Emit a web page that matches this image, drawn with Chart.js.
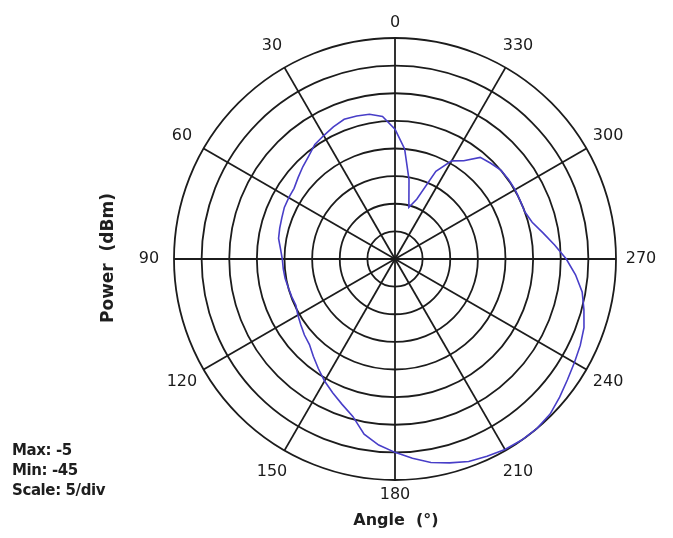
<!DOCTYPE html>
<html>
<head>
<meta charset="utf-8">
<script src="https://cdn.jsdelivr.net/npm/chart.js@4.4.1/dist/chart.umd.min.js"></script>
<style>
  body { margin: 0; background: #fff; }
  #wrap { position: relative; width: 673px; height: 538px; overflow: hidden; }
  #polar { position: absolute; left: 0; top: 0; }
  .txt { position: absolute; font-family: "DejaVu Sans", sans-serif; font-weight: bold; color: #1e1e1e; white-space: pre; }
  #ytitle { left: 107px; top: 258px; font-size: 17px; transform: translate(-50%, -50%) rotate(-90deg); }
  #xtitle { left: 396px; top: 519px; font-size: 16px; transform: translate(-50%, -50%); }
  #info { left: 12px; top: 440px; font-size: 15px; line-height: 20px; letter-spacing: -0.4px; }
</style>
</head>
<body>
<div id="wrap">
  <canvas id="polar" width="673" height="538"></canvas>
  <div class="txt" id="ytitle">Power  (dBm)</div>
  <div class="txt" id="xtitle">Angle  (°)</div>
  <div class="txt" id="info">Max: -5<br>Min: -45<br>Scale: 5/div</div>
</div>
<script>
// angulos medidos (graus) e potencia lida em cada um (dBm)
const angulos = [0, 5, 10, 15, 20, 25, 30, 35, 40, 45, 50, 55,
  60, 65, 70, 75, 80, 85, 90, 95, 100, 105, 110, 115,
  120, 125, 130, 135, 140, 145, 150, 155, 160, 165, 170, 175,
  180, 185, 190, 195, 200, 205, 210, 215, 220, 225, 230, 235,
  240, 245, 250, 255, 260, 265, 270, 275, 280, 285, 290, 295,
  300, 305, 310, 315, 320, 325, 330, 335, 340, 345, 350, 355];
const potencia = [-21.5, -19.1, -18.4, -18.2, -18.1, -18.6, -19.2, -19.7, -20.7, -21.4, -22.1, -22.7,
  -22.8, -22.9, -23.2, -23.4, -23.6, -24.2, -24.6, -24.7, -24.8, -25.0, -25.1, -25.2,
  -24.7, -24.2, -23.6, -23.1, -22.0, -20.8, -19.5, -18.3, -17.0, -15.5, -12.8, -11.2,
  -10.0, -8.8, -7.6, -6.8, -6.0, -5.6, -5.2, -5.0, -5.0, -5.3, -6.1, -6.9,
  -7.5, -8.0, -8.6, -9.6, -10.6, -12.2, -14.0, -16.0, -17.8, -19.3, -20.0, -20.0,
  -19.9, -19.9, -20.0, -20.5, -21.0, -23.3, -24.5, -27.5, -33.5, -35.3, -30.4, -25.0];
const rotulosAngulo = [0, 30, 60, 90, 120, 150, 180, 210, 240, 270, 300, 330];
const escalaMax = -5;
const escalaMin = -45;
const escalaPasso = 5;

// o radar gira no sentido horario, o grafico original no anti-horario
const n = angulos.length;
const labelsRadar = angulos.map((a, i) => angulos[(n - i) % n]);
const dadosRadar = angulos.map((a, i) => potencia[(n - i) % n]);

// rotulos dos angulos desenhados em volta do circulo
const rotulosPlugin = {
  id: 'rotulos',
  afterDraw(chart) {
    const r = chart.scales.r;
    const ctx = chart.ctx;
    ctx.save();
    ctx.font = '16px "DejaVu Sans", sans-serif';
    ctx.fillStyle = '#1a1a1a';
    ctx.textAlign = 'center';
    ctx.textBaseline = 'middle';
    labelsRadar.forEach((lab, i) => {
      if (!rotulosAngulo.includes(lab)) return;
      const s = Math.abs(Math.sin(r.getIndexAngle(i)));
      const off = 15 + 10 * Math.min(1, 2 * s);
      const p = r.getPointPosition(i, r.drawingArea + off);
      ctx.fillText(String(lab), p.x, p.y);
    });
    ctx.restore();
  }
};

const ctx1 = document.getElementById('polar').getContext('2d');
new Chart(ctx1, {
  type: 'radar',
  data: {
    labels: labelsRadar,
    datasets: [{
      label: 'Power',
      data: dadosRadar,
      borderColor: 'rgb(72, 62, 200)',
      borderWidth: 1.6,
      pointRadius: 0,
      fill: false,
      tension: 0
    }]
  },
  options: {
    responsive: false,
    animation: false,
    layout: { padding: { left: 174, right: 57, top: 38, bottom: 58 } },
    plugins: { legend: { display: false }, tooltip: { enabled: false } },
    scales: {
      r: {
        min: escalaMin,
        max: escalaMax,
        ticks: { display: false, stepSize: escalaPasso },
        grid: { circular: true, color: '#1c1c1c', lineWidth: 1.8 },
        angleLines: {
          color: '#1c1c1c',
          lineWidth: (c) => (rotulosAngulo.includes(labelsRadar[c.index]) ? 1.8 : 0)
        },
        pointLabels: { display: false }
      }
    }
  },
  plugins: [rotulosPlugin]
});
</script>
</body>
</html>
